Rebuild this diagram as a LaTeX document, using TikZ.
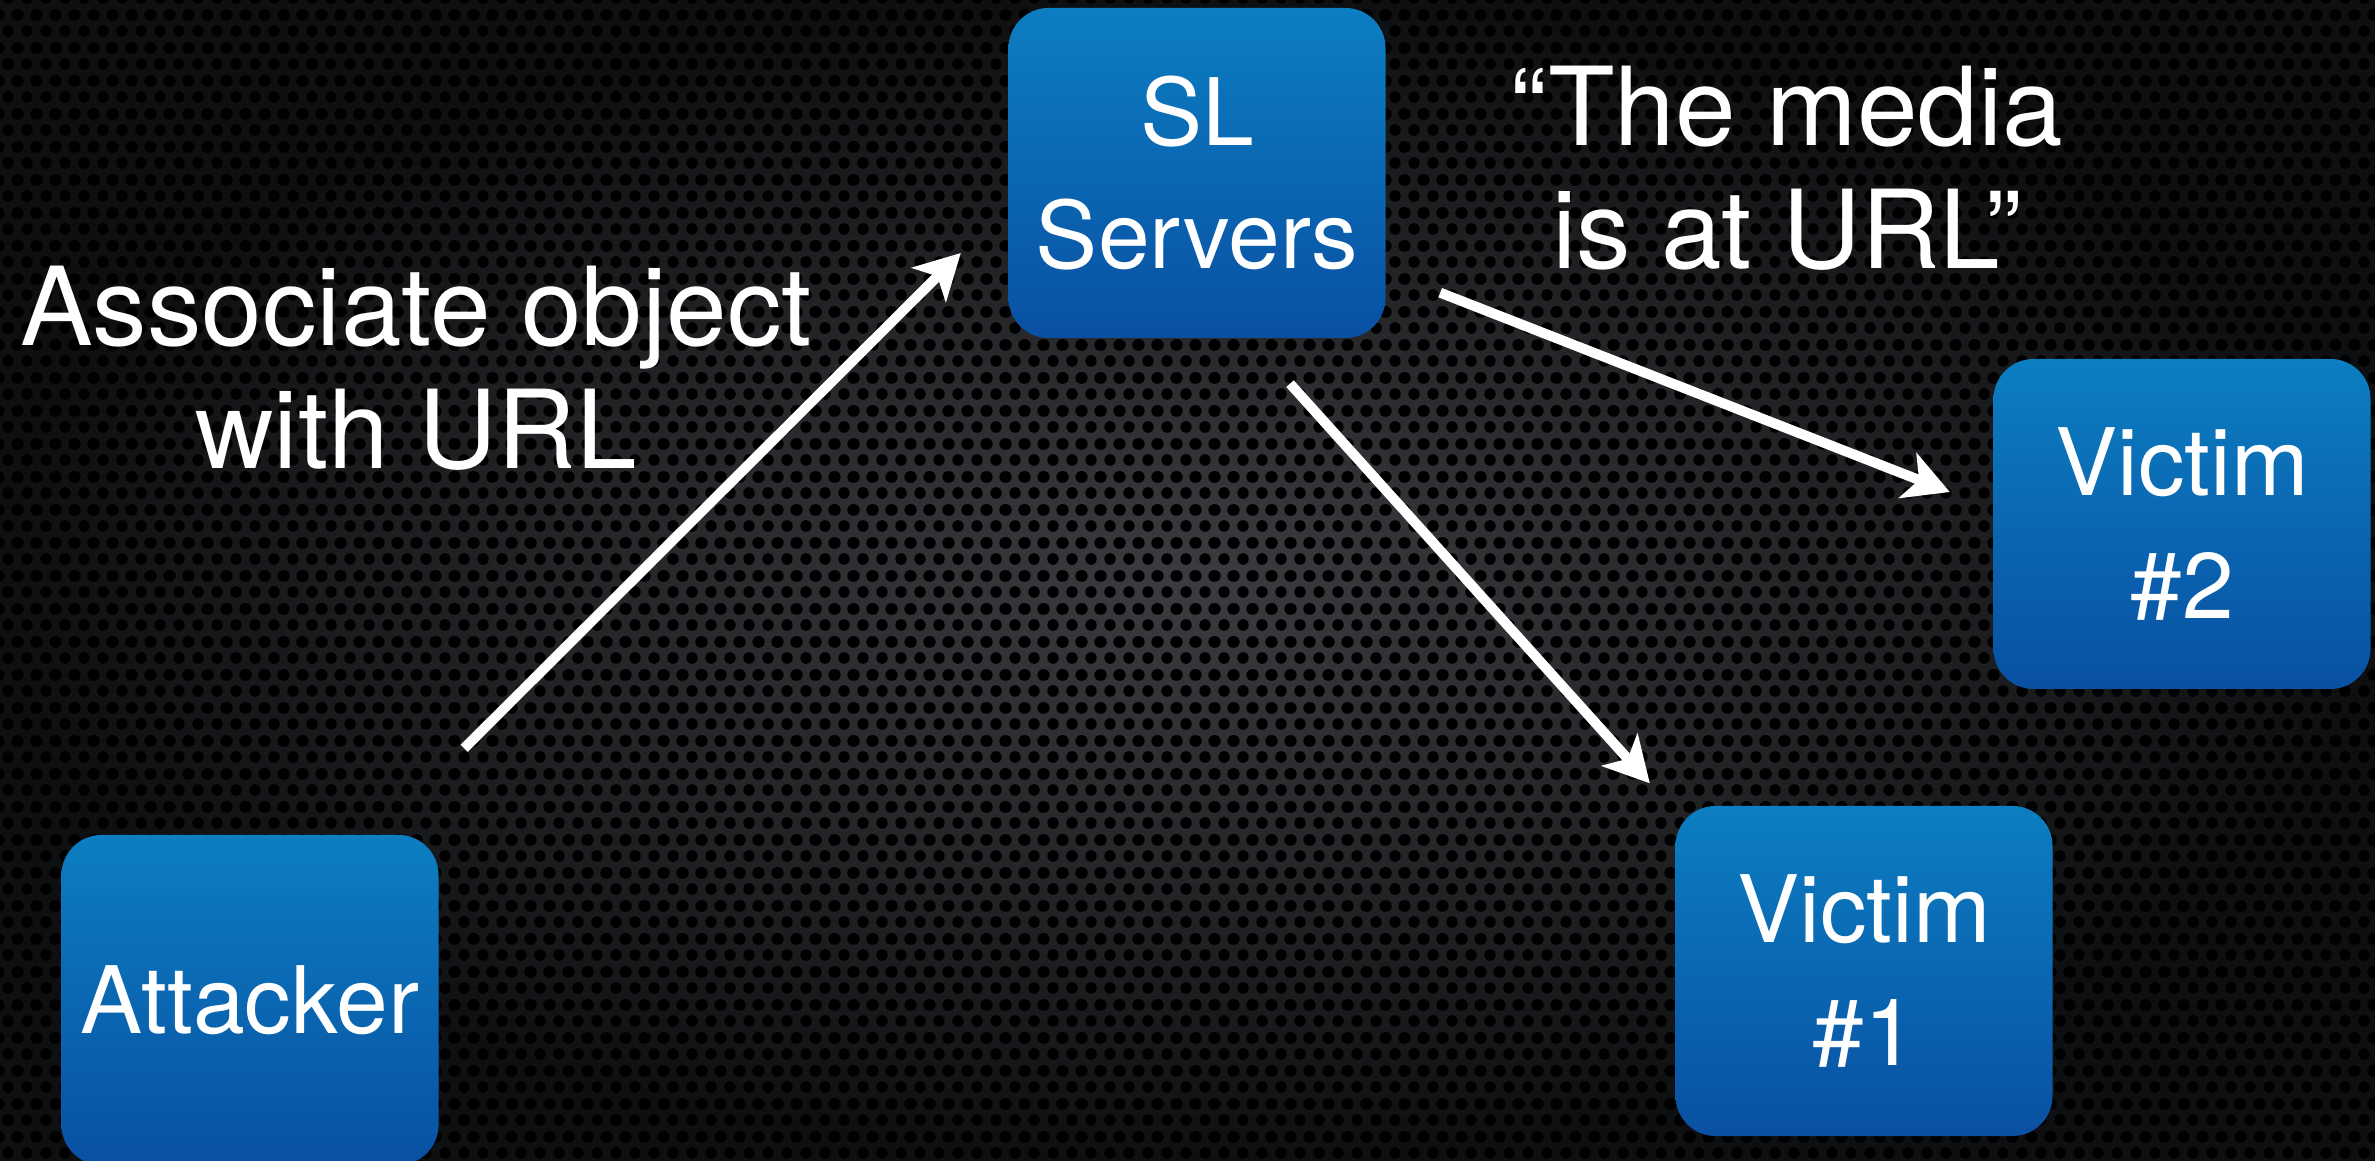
\documentclass[tikz,border=0pt]{standalone}
\usepackage{fontspec}
\setmainfont{TeX Gyre Heros}
\usetikzlibrary{arrows.meta,patterns}
\definecolor{metalgray}{RGB}{60,60,64}
\definecolor{metaldark}{RGB}{14,15,17}
\definecolor{boxtop}{RGB}{12,126,194}
\definecolor{boxbottom}{RGB}{9,80,163}

% perforated metal
\pgfdeclarepatternformonly{mesh}{\pgfpoint{0cm}{0cm}}{\pgfpoint{0.19cm}{0.33cm}}{\pgfpoint{0.19cm}{0.33cm}}{
    \pgfpathcircle{\pgfpoint{0.095cm}{0.0825cm}}{0.06cm}
    \pgfpathcircle{\pgfpoint{0cm}{0.2475cm}}{0.06cm}
    \pgfpathcircle{\pgfpoint{0.19cm}{0.2475cm}}{0.06cm}
    \pgfusepath{fill}
}

\begin{document}
\begin{tikzpicture}[
    box/.style={rounded corners=4mm, minimum width=3.77cm, minimum height=3.30cm,
        top color=boxtop, bottom color=boxbottom, text=white, align=center,
        inner sep=0pt, font=\fontsize{26.5}{35}\selectfont},
    link/.style={white, line width=1mm, -{Stealth[length=4.5mm,width=4.8mm,inset=1.2mm]}},
    caption/.style={text=white, align=center, font=\fontsize{31}{35}\selectfont}
]
    % Background
    \useasboundingbox (0,0) rectangle (23.75,11.6);
    \clip (0,0) rectangle (23.75,11.6);
    \shade[inner color=metalgray, outer color=metaldark] (0,0) rectangle (23.75,11.6);
    \fill[pattern=mesh, pattern color=black] (0,0) rectangle (23.75,11.6);

    % Boxes
    \node[box] (att) at (2.50,1.60) {Attacker};
    \node[box] (srv) at (11.97,9.87) {SL\\Servers};
    \node[box] (vicone) at (18.64,1.89) {Victim\\\#1};
    \node[box] (victwo) at (21.82,6.36) {Victim\\\#2};

    % Labels
    \node[caption] (assoc) at (4.16,7.92) {Associate object\\with URL};
    \node[caption] (media) at (17.87,9.92) {“The media\\is at URL”};

    % Arrows
    \draw[link] ([shift={(0.25,0.86)}]att.north east) -- ([shift={(-0.47,-0.80)}]srv.west);
    \draw[link] ([shift={(0.93,-0.45)}]srv.south) -- ([shift={(-0.25,0.22)}]vicone.north west);
    \draw[link] ([shift={(0.54,0.46)}]srv.south east) -- ([shift={(-0.43,0.32)}]victwo.west);
\end{tikzpicture}
\end{document}
